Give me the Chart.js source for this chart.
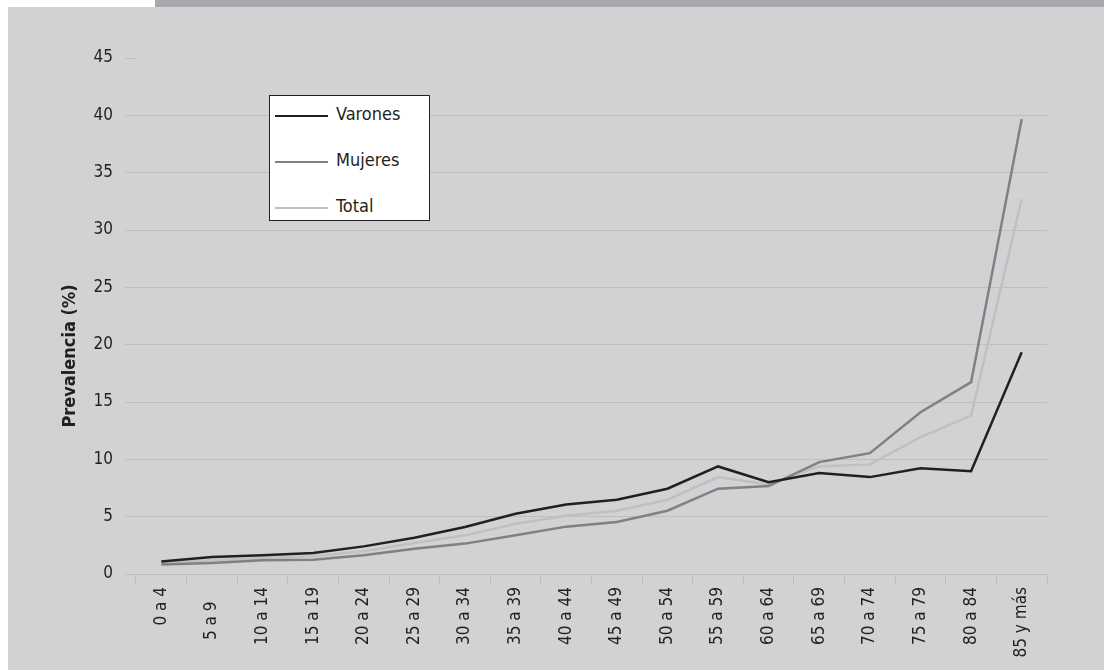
<!DOCTYPE html>
<html>
<head>
<meta charset="utf-8">
<script src="https://cdn.jsdelivr.net/npm/chart.js@4.4.0/dist/chart.umd.min.js"></script>
<style>
body {
    margin: 0;
    width: 1104px;
    height: 670px;
    background: #fff;
    position: relative;
    overflow: hidden;
    font-family: "DejaVu Sans Condensed", "Liberation Sans Narrow", sans-serif;
}
.topbar { position: absolute; left: 155px; top: 0; width: 949px; height: 7px; background: #a7a8ac; }
.panel { position: absolute; left: 8px; top: 7px; width: 1096px; height: 663px; background: #d1d2d4; }
#chart { position: absolute; left: 0; top: 0; }
#legend {
    position: absolute; left: 269px; top: 95px; width: 159px; height: 124px;
    background: #fff; border: 1.5px solid #231f20;
}
.item { position: absolute; left: 5px; height: 20px; display: flex; align-items: center; font-size: 18px; color: #231f20; }
.item .swatch { width: 53px; height: 0; border-top: 2.5px solid; margin-right: 8px; }
.item .txt { position: relative; top: -3px; }
</style>
</head>
<body>
<div class="topbar"></div>
<div class="panel">
    <canvas id="chart" width="1096" height="663"></canvas>
</div>
<div id="legend"></div>
<script>
const ageGroups = ['0 a 4', '5 a 9   ', '10 a 14', '15 a 19', '20 a 24', '25 a 29', '30 a 34', '35 a 39',
    '40 a 44', '45 a 49', '50 a 54', '55 a 59', '60 a 64', '65 a 69', '70 a 74', '75 a 79', '80 a 84', '85 y más'];
const varones = [1.1, 1.48, 1.63, 1.83, 2.41, 3.17, 4.1, 5.26, 6.07, 6.48, 7.44, 9.38, 8.01, 8.8, 8.45, 9.23, 8.97, 19.34];
const mujeres = [0.82, 0.96, 1.19, 1.25, 1.63, 2.21, 2.65, 3.37, 4.13, 4.53, 5.52, 7.44, 7.67, 9.76, 10.54, 14.11, 16.73, 39.67];
const total = [0.96, 1.2, 1.4, 1.54, 1.98, 2.7, 3.37, 4.39, 5.08, 5.52, 6.48, 8.45, 7.81, 9.38, 9.56, 11.93, 13.82, 32.7];
const yMin = 0, yMax = 45, yStep = 5;

const FONT = '"DejaVu Sans Condensed", "Liberation Sans Narrow", sans-serif';
const INK = '#231f20';
const GRID = '#bdbec0';

// axis title drawn by hand so it can sit where the original has it
const yTitle = {
    id: 'yTitle',
    afterDraw(chart) {
        const ctx = chart.ctx;
        ctx.save();
        ctx.translate(62, 349);
        ctx.rotate(-Math.PI / 2);
        ctx.font = 'bold 18px ' + FONT;
        ctx.fillStyle = INK;
        ctx.textAlign = 'center';
        ctx.textBaseline = 'middle';
        ctx.fillText('Prevalencia (%)', 0, 0);
        ctx.restore();
    }
};

const chart = new Chart(document.getElementById('chart'), {
    type: 'line',
    data: {
        labels: ageGroups,
        datasets: [
            { label: 'Varones', data: varones, borderColor: INK },
            { label: 'Mujeres', data: mujeres, borderColor: '#818184' },
            { label: 'Total', data: total, borderColor: '#bfc0c2' }
        ]
    },
    options: {
        responsive: false,
        animation: false,
        layout: { padding: { top: 51, right: 57, left: 0, bottom: 0 } },
        elements: {
            line: { borderWidth: 2.5, tension: 0, fill: false },
            point: { radius: 0 }
        },
        plugins: {
            legend: { display: false },
            tooltip: { enabled: false }
        },
        scales: {
            x: {
                offset: true,
                afterFit: s => { s.height = 96; },
                grid: { offset: true, drawOnChartArea: false, color: GRID, tickLength: 10 },
                border: { display: true, color: GRID },
                ticks: {
                    autoSkip: false, minRotation: 90, maxRotation: 90, padding: 3,
                    color: INK, font: { family: FONT, size: 17 }
                }
            },
            y: {
                min: yMin,
                max: yMax,
                afterFit: s => { s.width = 128; },
                grid: {
                    color: c => c.tick && c.tick.value === yMax ? 'rgba(0,0,0,0)' : GRID,
                    tickColor: GRID,
                    tickLength: 11
                },
                border: { display: false },
                ticks: { stepSize: yStep, padding: 12, color: INK, font: { family: FONT, size: 17 } }
            }
        }
    },
    plugins: [yTitle]
});

// legend box built from the chart's datasets
const legend = document.getElementById('legend');
chart.data.datasets.forEach((ds, i) => {
    const row = document.createElement('div');
    row.className = 'item';
    row.style.top = (10 + i * 46) + 'px';
    const sw = document.createElement('span');
    sw.className = 'swatch';
    sw.style.borderTopColor = ds.borderColor;
    const txt = document.createElement('span');
    txt.className = 'txt';
    txt.textContent = ds.label;
    row.appendChild(sw);
    row.appendChild(txt);
    legend.appendChild(row);
});
</script>
</body>
</html>
